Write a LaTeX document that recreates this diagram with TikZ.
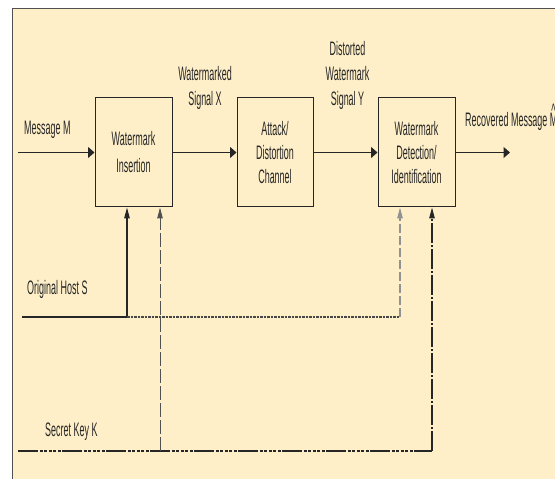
\documentclass[tikz,border=0pt]{standalone}
\usepackage{fontspec}
\setmainfont{Liberation Sans}[FakeStretch=0.46]
\usetikzlibrary{arrows.meta}
\definecolor{bgcol}{HTML}{FEEFC8}
\definecolor{ink}{HTML}{262626}
\tikzset{
  lbl/.style={font=\fontsize{19.5}{24}\selectfont, text=ink, inner sep=0pt, align=center},
  blk/.style={draw=ink, line width=1pt, minimum height=109pt, inner sep=0pt, lbl},
  harr/.style={draw=ink, line width=1.2pt, -{Triangle[length=6.5pt,width=11pt]}},
  varr/.style={-{Triangle[length=11pt,width=5.5pt]}},
  hostline/.style={draw=ink, line width=1.2pt},
  hostdot/.style={draw=ink!85, line width=1.2pt, dash pattern=on 2.5pt off 1pt},
  hostdash/.style={draw=ink!50, line width=1.2pt, dash pattern=on 9pt off 3pt},
  keyline/.style={draw=ink, line width=1.2pt, dash pattern=on 20pt off 1.5pt on 3pt off 1.5pt on 3pt off 1.5pt on 3pt off 1.5pt on 3pt off 1.5pt on 3pt off 1.5pt},
  keyv1/.style={draw=ink!80, line width=1pt, dash pattern=on 14pt off 3pt},
  keyv2/.style={draw=ink, line width=1.1pt, dash pattern=on 20pt off 2pt on 2pt off 2pt},
}
\begin{document}
\begin{tikzpicture}[x=1pt,y=1pt]
\useasboundingbox (0,0) rectangle (555,479);
\fill[bgcol] (12,0) rectangle (555,470);
\draw[ink!80, line width=1pt] (12,0) -- (12,470) -- (555,470);

% blocks
\node[blk, minimum width=77pt, font=\fontsize{19.5}{27}\selectfont] (ins) at (133.5,326.5) {Watermark\\Insertion};
\node[blk, minimum width=76pt] (att) at (275,326.5) {Attack/\\Distortion\\Channel};
\node[blk, minimum width=77pt] (det) at (416.5,326.5) {Watermark\\Detection/\\Identification};

% labels
\node[lbl, anchor=base west] (lm) at (24,344) {Message M};
\node[lbl, font=\fontsize{19.5}{25}\selectfont] (lx) at (205,391) {Watermarked\\Signal X};
\node[lbl, font=\fontsize{19.5}{25}\selectfont] (ly) at (347.5,403.5) {Distorted\\Watermark\\Signal Y};
\node[lbl, anchor=base west] (lr) at (465,352) {Recovered Message \makebox[0pt][l]{\hspace{1.5pt}\raisebox{9pt}{\^{}}}M};
\node[lbl, anchor=base west] (ls) at (27,184) {Original Host S};
\node[lbl, anchor=base west] (lk) at (45,42) {Secret Key K};

% coordinates
\coordinate (ms) at (18,326.5);
\coordinate (me) at (510,326.5);
\coordinate (hs) at (22,162);
\coordinate (hc) at (127,162);
\coordinate (hd) at (400,162);
\coordinate (ks) at (18,28);
\coordinate (k1) at (160,28);
\coordinate (k2) at (432,28);

% main chain
\draw[harr] (ms) -- (ins.west);
\draw[harr] (ins.east) -- (att.west);
\draw[harr] (att.east) -- (det.west);
\draw[harr] (det.east) -- (me);

% host
\draw[hostline] (hs) -- (hc);
\draw[hostline, varr] (hc) -- (hc |- ins.south);
\draw[hostdot] (hc) -- (hd);
\draw[hostdash, varr] (hd) -- (hd |- det.south);

% key
\draw[keyline] (ks) -- (k2);
\draw[keyv1, varr] (k1) -- (k1 |- ins.south);
\draw[keyv2, varr] (k2) -- (k2 |- det.south);
\end{tikzpicture}
\end{document}
